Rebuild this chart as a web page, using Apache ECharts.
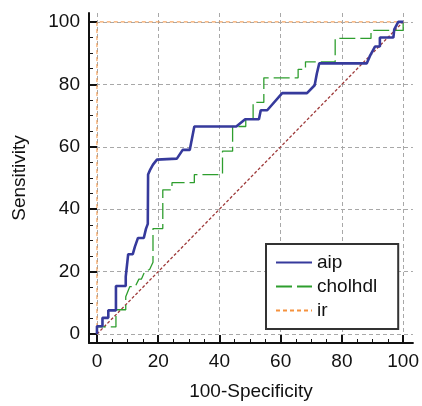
<!DOCTYPE html>
<html>
<head>
<meta charset="utf-8">
<script src="https://cdn.jsdelivr.net/npm/echarts@6/dist/echarts.min.js"></script>
<style>
  html, body { margin: 0; padding: 0; background: #fff; }
  #chart { width: 422px; height: 406px; }
</style>
</head>
<body>
<div id="chart"></div>
<script>
// ROC points: [100-Specificity, Sensitivity]
const aipPoints = [
  [0, 0], [0, 2.5], [1.8, 2.5], [1.8, 5.2], [3.7, 5.2], [3.7, 7.6], [6.2, 7.6],
  [6.2, 15.4], [9.4, 15.4], [9.4, 18.4], [10.2, 25.6], [11.7, 25.6], [12.4, 28],
  [13.4, 30.8], [15.3, 30.8], [16, 33.7], [16.6, 35.3], [16.7, 51.1], [17.4, 52.7],
  [18.3, 54.3], [19.6, 55.9], [20, 56.2], [26.1, 56.2], [28, 59], [30.3, 59],
  [31.8, 66.5], [45.5, 66.5], [48.4, 68.8], [52.9, 68.8], [53.5, 71.7], [55.6, 71.7],
  [60.5, 77.2], [68.6, 77.2], [71.1, 79.7], [71.8, 83.4], [72.6, 86.7], [88.1, 86.7],
  [89.2, 89.2], [90.8, 92.1], [92.4, 92.1], [92.4, 95], [96.8, 95], [97.1, 97.6],
  [98.4, 100], [100, 100]
];
const cholhdlPoints = [
  [0, 0], [0, 2.3], [6.2, 2.3], [6.2, 7.8], [9.4, 7.8], [9.4, 12], [10.7, 15.2],
  [12.5, 15.2], [13.7, 17.6], [14.5, 17.6], [15.6, 20], [17.2, 20.7], [18.3, 23],
  [18.3, 33.8], [21.5, 33.8], [21.5, 46.2], [24.5, 46.2], [24.5, 48.5], [31.8, 48.5],
  [31.8, 51.1], [41, 51.1], [41, 58.6], [44.3, 58.6], [44.3, 66.5], [48.6, 66.5],
  [48.6, 69], [51, 69], [51, 74.2], [54.5, 74.2], [54.5, 82.1], [65.7, 82.1],
  [65.7, 84.8], [68.1, 84.8], [68.1, 87.2], [77.8, 87.2], [77.8, 94.7], [89.5, 94.7],
  [89.5, 97.3], [100, 97.3], [100, 100]
];
const irPoints = [[0, 0], [0, 100], [100, 100]];
const diagonalPoints = [[0, 0], [100, 100]];

const majorTicks = [0, 20, 40, 60, 80, 100];
const minorTicks = [5, 10, 15, 25, 30, 35, 45, 50, 55, 65, 70, 75, 85, 90, 95];

const font = "Liberation Sans, Arial, sans-serif";
const xRange = [-2.6, 103.2];
const yRange = [-2.85, 102.85];

const aipColor = "#363a9c";
const cholhdlColor = "#2e9e2e";
const irColor = "#f5923e";

const chart = echarts.init(document.getElementById("chart"));

const mainAxis = (range, isY) => ({
  type: "value",
  min: range[0],
  max: range[1],
  position: isY ? "left" : "bottom",
  name: isY ? "Sensitivity" : "100-Specificity",
  nameLocation: "middle",
  nameGap: isY ? 60 : 39,
  nameTextStyle: { color: "#111", fontSize: 19, fontFamily: font },
  axisLine: { show: true, onZero: false, lineStyle: { color: "#111", width: 2 } },
  axisTick: {
    show: true, inside: true, length: 8, customValues: majorTicks,
    lineStyle: { color: "#111", width: 2 },
  },
  axisLabel: {
    show: true, customValues: majorTicks, margin: 9,
    color: "#111", fontSize: 19, fontFamily: font,
  },
  splitLine: {
    show: true,
    lineStyle: { color: "#a8a8a8", width: 1, type: [4, 3] },
  },
});

const minorAxis = (range, isY) => ({
  type: "value",
  min: range[0],
  max: range[1],
  position: isY ? "left" : "bottom",
  axisLine: { show: false, onZero: false },
  axisTick: {
    show: true, inside: true, length: 4, customValues: minorTicks,
    lineStyle: { color: "#111", width: 1 },
  },
  axisLabel: { show: false },
  splitLine: { show: false },
});

chart.setOption({
  animation: false,
  color: [aipColor, cholhdlColor, irColor],
  grid: { left: 89, right: 7, top: 13, bottom: 59 },
  xAxis: [mainAxis(xRange, false), minorAxis(xRange, false)],
  yAxis: [mainAxis(yRange, true), minorAxis(yRange, true)],
  legend: {
    data: ["aip", "cholhdl", "ir"],
    orient: "vertical",
    left: 266,
    top: 244,
    itemWidth: 36,
    itemHeight: 14,
    itemGap: 5,
    itemTextGap: 8,
    padding: [9, 21, 9, 9],
    borderColor: "#333",
    borderWidth: 2,
    backgroundColor: "#fff",
    itemStyle: { opacity: 0 },
    textStyle: { color: "#111", fontSize: 19, fontFamily: font },
  },
  series: [
    {
      name: "diagonal",
      type: "line",
      data: diagonalPoints,
      symbol: "none",
      lineStyle: { color: "#9e3a3a", width: 1.3, type: [3, 2] },
      z: 2,
    },
    {
      name: "ir",
      type: "line",
      data: irPoints,
      symbol: "none",
      itemStyle: { color: irColor },
      lineStyle: { color: irColor, width: 1, type: [4, 3] },
      z: 3,
    },
    {
      name: "cholhdl",
      type: "line",
      data: cholhdlPoints,
      symbol: "none",
      itemStyle: { color: cholhdlColor },
      lineStyle: { color: cholhdlColor, width: 1.3, type: [16, 5] },
      z: 4,
    },
    {
      name: "aip",
      type: "line",
      data: aipPoints,
      symbol: "none",
      itemStyle: { color: aipColor },
      lineStyle: { color: aipColor, width: 2.6 },
      z: 5,
    },
  ],
});
</script>
</body>
</html>
